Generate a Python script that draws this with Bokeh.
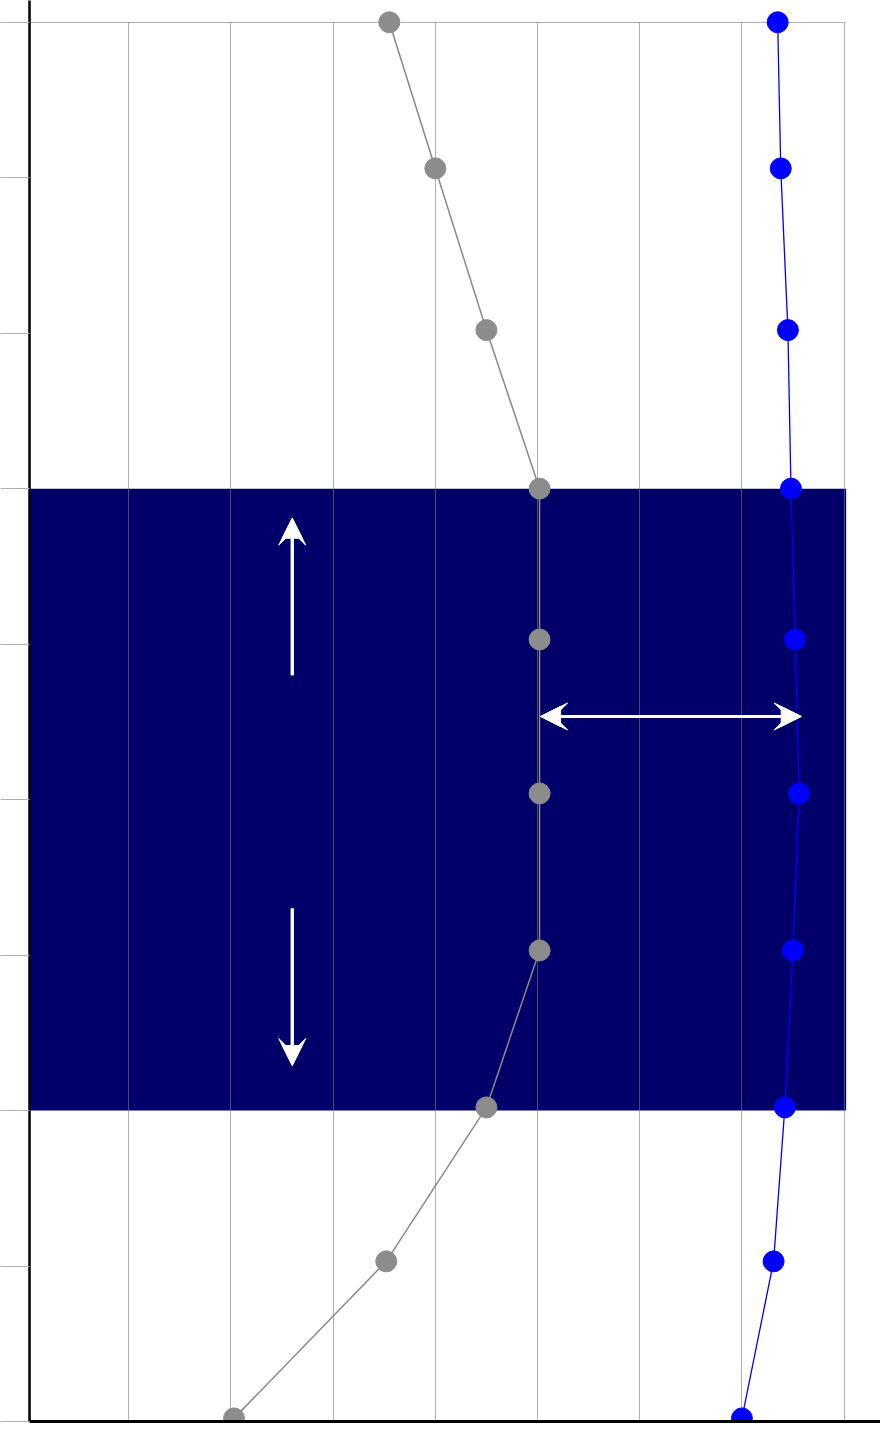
from bokeh.plotting import figure
from bokeh.models import (Range1d, FixedTicker, Grid, BoxAnnotation, Arrow, VeeHead, NormalHead)
from bokeh.embed import file_html
from bokeh.resources import INLINE

# ---- data ----
depth = [0.0, 0.94, 1.98, 3.0, 3.97, 4.96, 5.97, 6.98, 7.97, 8.98]
gray_x = [3.55, 4.0, 4.5, 5.02, 5.02, 5.02, 5.02, 4.5, 3.52, 2.03]
blue_x = [7.35, 7.38, 7.45, 7.48, 7.52, 7.56, 7.50, 7.42, 7.31, 7.0]
y_ticks = [0, 1, 2, 3, 4, 5, 6, 7, 8, 9]
x_grid = [1, 2, 3, 4, 5, 6, 7, 8]
band_top = 3.0
band_bottom = 7.0
band_right = 8.02

# arrows: (x_start, y_start, x_end, y_end)
arrow_up = (2.6, 4.20, 2.6, 3.19)
arrow_down = (2.6, 5.70, 2.6, 6.71)
arrow_both = (5.03, 4.465, 7.58, 4.465)

p = figure(width=880, height=1431,
           x_range=Range1d(0.029, 8.356), y_range=Range1d(9, -0.14),
           output_backend="svg", toolbar_location=None,
           min_border_left=29, min_border_right=0,
           min_border_top=0, min_border_bottom=10)
p.outline_line_color = None
p.background_fill_color = "white"

# remove default grids
p.xgrid.grid_line_color = None
p.ygrid.grid_line_color = None

# y axis
p.yaxis.ticker = FixedTicker(ticks=y_ticks)
p.yaxis.major_label_overrides = {t: "" for t in y_ticks}
p.yaxis.major_label_standoff = 0
p.yaxis.major_tick_out = 29
p.yaxis.major_tick_in = 0
p.yaxis.major_tick_line_color = "#b0b0b0"
p.yaxis.major_tick_line_width = 1
p.yaxis.minor_tick_line_color = None
p.yaxis.axis_line_color = "black"
p.yaxis.axis_line_width = 2.5

# x axis: line only
p.xaxis.ticker = FixedTicker(ticks=[])
p.xaxis.major_label_standoff = 0
p.xaxis.major_tick_out = 0
p.xaxis.major_tick_in = 0
p.xaxis.minor_tick_line_color = None
p.xaxis.axis_line_color = "black"
p.xaxis.axis_line_width = 3

# navy band
band = BoxAnnotation(top=band_top, bottom=band_bottom, right=band_right,
                     fill_color="#000068", fill_alpha=1.0, line_color=None,
                     level="underlay")
p.add_layout(band)

# grids drawn above the band
vgrid = Grid(dimension=0, ticker=FixedTicker(ticks=x_grid),
             grid_line_color="#7b7b7b", grid_line_alpha=0.6, grid_line_width=1,
             cross_bounds=(0, 9))
hgrid = Grid(dimension=1, ticker=FixedTicker(ticks=[0]),
             grid_line_color="#7b7b7b", grid_line_alpha=0.6, grid_line_width=1,
             cross_bounds=(0, 8.01))
p.add_layout(vgrid)
p.add_layout(hgrid)

# series
p.line(gray_x, depth, line_color="#888888", line_width=1.5)
p.scatter(gray_x, depth, size=21, fill_color="#8c8c8c", line_color="#8c8c8c")
p.line(blue_x, depth, line_color="#0000ff", line_width=1.3)
p.scatter(blue_x, depth, size=21, fill_color="#0000ff", line_color="#0000ff")

# arrows (vee head plus a filled triangle to make the notch shallower)
def vee():
    return VeeHead(size=27, fill_color="white", line_color="white", line_width=1)

def tri():
    return NormalHead(size=20, fill_color="white", line_color="white", line_width=1)

for (xs, ys, xe, ye), both in [(arrow_up, False), (arrow_down, False), (arrow_both, True)]:
    p.add_layout(Arrow(start=vee() if both else None, end=vee(),
                       x_start=xs, y_start=ys, x_end=xe, y_end=ye,
                       line_color="white", line_width=3))
    p.add_layout(Arrow(start=tri() if both else None, end=tri(),
                       x_start=xs, y_start=ys, x_end=xe, y_end=ye,
                       line_color="white", line_width=3))

open("out.html", "w").write(file_html(p, INLINE))
